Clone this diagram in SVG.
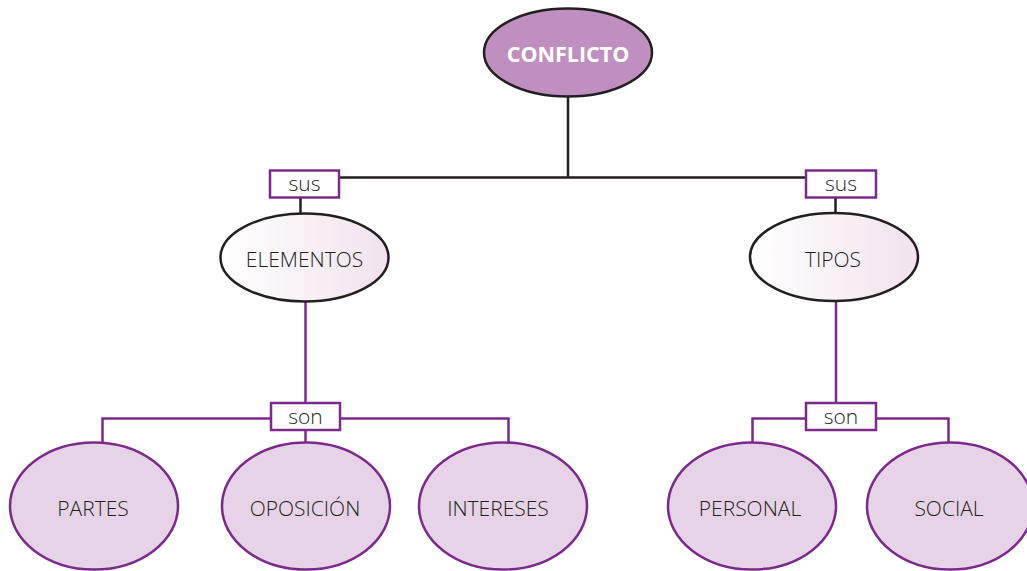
<svg xmlns="http://www.w3.org/2000/svg" width="1027" height="571" viewBox="0 0 1027 571">
<defs>
<linearGradient id="g" x1="0" y1="0" x2="1" y2="0">
<stop offset="0" stop-color="#ffffff"/>
<stop offset="1" stop-color="#f1e2ee"/>
</linearGradient>
<style>
.blk{stroke:#231f20;stroke-width:2.5;fill:none}
.pur{stroke:#7b2a8b;stroke-width:2.5;fill:none}
.box{fill:#ffffff;stroke:#7b2a8b;stroke-width:2.5}
.mid{fill:url(#g);stroke:#231f20;stroke-width:2.5}
.leaf{fill:#e7d3e7;stroke:#7b2a8b;stroke-width:2.5}
.top{fill:#bf90bf;stroke:#231f20;stroke-width:2.5}
text{font-family:"Open Sans","Noto Sans",sans-serif;font-size:21px;font-weight:300;fill:#231f20;text-anchor:middle}
.tt{font-weight:bold;fill:#ffffff;font-size:21.5px}
</style>
</defs>
<rect width="1027" height="571" fill="#ffffff"/>
<g id="connectors">
<path class="blk" d="M568 96 V177.5 M339 177.5 H806 M300.5 197 V214 M835.5 197 V214"/>
<path class="pur" d="M305.5 301 V403 M102.5 442 V418.5 H271 M340 418.5 H508.5 V442 M305.5 429 V442"/>
<path class="pur" d="M836 300 V403 M752.5 442 V418.5 H806 M876 418.5 H948.5 V442"/>
</g>
<g id="conflicto"><ellipse class="top" cx="568" cy="52.5" rx="84" ry="44"/><text class="tt" x="568" y="61.5">CONFLICTO</text></g>
<g id="sus-left"><rect class="box" x="270" y="170.5" width="69" height="27"/><text x="304.5" y="191">sus</text></g>
<g id="sus-right"><rect class="box" x="806" y="170.5" width="70" height="27"/><text x="841" y="191">sus</text></g>
<g id="elementos"><ellipse class="mid" cx="304.5" cy="257.5" rx="84" ry="44"/><text x="304.5" y="266.5">ELEMENTOS</text></g>
<g id="tipos"><ellipse class="mid" cx="834" cy="257" rx="84" ry="44"/><text x="833" y="266.5">TIPOS</text></g>
<g id="son-left"><rect class="box" x="271" y="403" width="69" height="27"/><text x="305.5" y="423.5">son</text></g>
<g id="son-right"><rect class="box" x="806" y="403" width="70" height="27"/><text x="841" y="423.5">son</text></g>
<g id="partes"><ellipse class="leaf" cx="94" cy="506" rx="84" ry="63.5"/><text x="93" y="516">PARTES</text></g>
<g id="oposicion"><ellipse class="leaf" cx="306" cy="506" rx="84" ry="63.5"/><text x="305" y="516">OPOSICIÓN</text></g>
<g id="intereses"><ellipse class="leaf" cx="503" cy="506" rx="84" ry="63.5"/><text x="498" y="516">INTERESES</text></g>
<g id="personal"><ellipse class="leaf" cx="752" cy="506" rx="84" ry="63.5"/><text x="750" y="516">PERSONAL</text></g>
<g id="social"><ellipse class="leaf" cx="950" cy="506" rx="83" ry="63.5"/><text x="949" y="516">SOCIAL</text></g>
</svg>
